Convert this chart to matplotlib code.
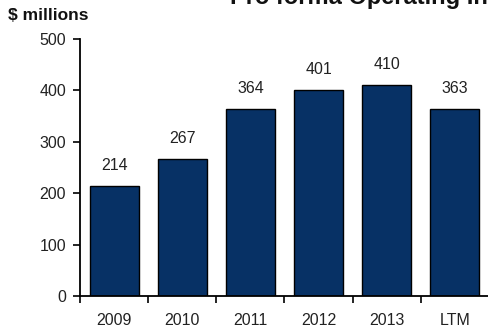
import numpy as np
import matplotlib.pyplot as plt

plt.rcParams['font.family'] = ['Liberation Sans', 'DejaVu Sans']

# Pro forma operating income, $ millions
periods = ['2009', '2010', '2011', '2012', '2013', 'LTM']
income = [214, 267, 364, 401, 410, 363]
yticks = [0, 100, 200, 300, 400, 500]

navy = '#073165'

fig = plt.figure(figsize=(4.88, 3.33), dpi=100)
ax = fig.add_axes([80 / 488, 1 - 296 / 333, 1 - 80 / 488 + 0.002, (296 - 39) / 333])

x = np.arange(len(periods))
bars = ax.bar(x, income, width=0.72, color=navy, edgecolor='black', linewidth=1.0, zorder=2)

for xi, v in zip(x, income):
    ax.annotate(str(v), (xi, v), xytext=(0, 9.5), textcoords='offset points',
                ha='center', va='bottom', fontsize=11.5, color='#222222')

ax.set_xlim(-0.5, len(periods) - 0.5)
ax.set_ylim(0, 500)
ax.set_yticks(yticks)
ax.set_xticks(x)
ax.set_xticklabels(periods)
ax.set_xticks(np.arange(len(periods) + 1) - 0.5, minor=True)
ax.tick_params(axis='x', which='major', length=0, pad=12, labelsize=11.5, labelcolor='#222222')
ax.tick_params(axis='x', which='minor', length=5, width=1.2, direction='out')
ax.tick_params(axis='y', length=5, width=1.2, direction='out', pad=5,
               labelsize=11.5, labelcolor='#222222')

for side in ('top', 'right'):
    ax.spines[side].set_visible(False)
for side in ('left', 'bottom'):
    ax.spines[side].set_linewidth(1.3)
ax.spines['left'].set_zorder(3)

fig.text(8 / 488, 1 - 15 / 333, '$ millions', fontsize=12.5, fontweight='bold',
         ha='left', va='center', color='#111111')
fig.text(230 / 488, 1 - 4 / 333, 'Pro forma Operating Income', fontsize=17,
         fontweight='bold', ha='left', va='baseline', color='#111111')

fig.savefig('out.png', dpi=100)
